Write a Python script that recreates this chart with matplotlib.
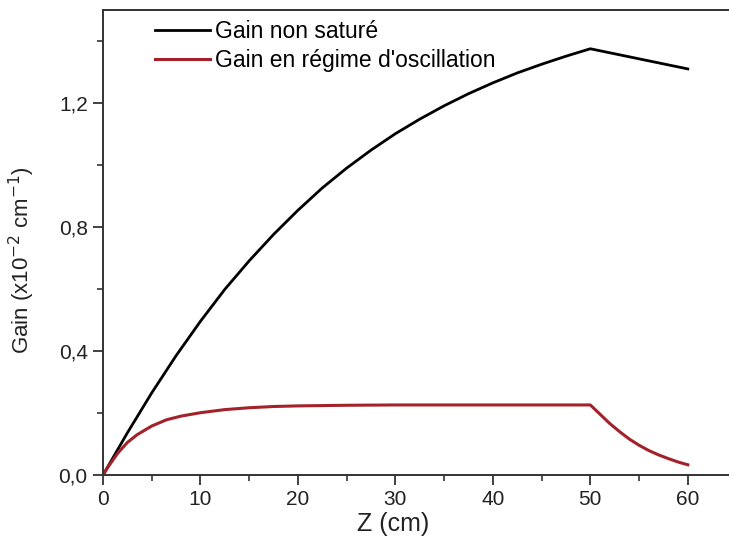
import numpy as np
import matplotlib.pyplot as plt
from matplotlib.ticker import MultipleLocator, FuncFormatter

plt.rcParams["font.family"] = ["Liberation Sans", "DejaVu Sans"]

# unsaturated gain
z_ns = [0, 2.5, 5, 7.5, 10, 12.5, 15, 17.5, 20, 22.5, 25, 27.5, 30, 32.5,
        35, 37.5, 40, 42.5, 45, 47.5, 50, 60]
g_ns = [0, 0.136, 0.265, 0.385, 0.496, 0.599, 0.691, 0.776, 0.854, 0.926,
        0.990, 1.048, 1.101, 1.148, 1.191, 1.230, 1.265, 1.297, 1.325, 1.351,
        1.375, 1.31]

# gain in oscillation regime
z_osc = [0, 0.5, 1.5, 2.5, 3.5, 5, 6.5, 8, 10, 12.5, 15, 17.5, 20, 25, 30,
         40, 50, 51, 52, 53, 54, 55, 56, 57, 58, 59, 60]
g_osc = [0, 0.025, 0.07, 0.105, 0.13, 0.158, 0.178, 0.19, 0.201, 0.211,
         0.217, 0.221, 0.223, 0.225, 0.226, 0.226, 0.226, 0.196, 0.166,
         0.140, 0.116, 0.096, 0.079, 0.065, 0.053, 0.042, 0.033]

fig = plt.figure(figsize=(7.29, 5.47), dpi=100)
ax = fig.add_axes([0.1413, 0.1316, 0.869, 0.8501])

ax.plot(z_ns, g_ns, color="black", lw=2.0, label="Gain non saturé")
ax.plot(z_osc, g_osc, color="#a3222a", lw=2.2, label="Gain en régime d'oscillation")

ax.set_xlim(0, 65)
ax.set_ylim(0, 1.5)
ax.xaxis.set_major_locator(MultipleLocator(10))
ax.xaxis.set_minor_locator(MultipleLocator(5))
ax.yaxis.set_major_locator(MultipleLocator(0.4))
ax.yaxis.set_minor_locator(MultipleLocator(0.2))
ax.yaxis.set_major_formatter(FuncFormatter(lambda v, p: f"{v:.1f}".replace(".", ",")))

for s in ax.spines.values():
    s.set_linewidth(1.4)
    s.set_color("#333333")
ax.tick_params(which="major", direction="out", length=7, width=1.3,
               labelsize=15, colors="#333333", labelcolor="#222222", pad=4)
ax.tick_params(which="minor", direction="out", length=4, width=1.2, colors="#333333")

ax.set_xlabel("Z (cm)", fontsize=18, color="#222222")
ax.xaxis.set_label_coords(0.458, -0.08)
ax.set_ylabel(r"Gain (x10$^{-2}$ cm$^{-1}$)", fontsize=16, color="#222222")
ax.yaxis.set_label_coords(-0.104, 0.462)

ax.legend(loc="upper left", bbox_to_anchor=(0.05, 1.022), frameon=False,
          fontsize=16.5, handlelength=2.4, handletextpad=0.2, labelspacing=0.25)

fig.savefig("out.png", dpi=100)
